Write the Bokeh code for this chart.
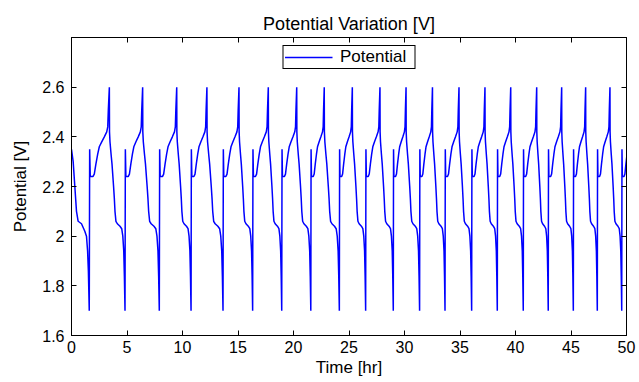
from bokeh.plotting import figure
from bokeh.models import (Range1d, LinearAxis, FixedTicker, CustomJSTickFormatter,
                          Legend, LegendItem)
from bokeh.embed import file_html
from bokeh.resources import INLINE

# ---- data ----
# times (hr) of the low spikes (1.7 V) that end each discharge
min_times = [1.60, 4.82, 7.91, 10.77, 13.65, 16.32, 18.94, 21.56, 24.13, 26.50,
             28.99, 31.36, 33.65, 36.05, 38.36, 40.70, 42.95, 45.21, 47.37, 49.57]
# times (hr) of the high spikes (2.6 V) that end each charge (last one lies past the axis end)
peak_times = [3.41, 6.41, 9.48, 12.20, 15.09, 17.73, 20.29, 22.77, 25.30, 27.79,
              30.14, 32.52, 34.91, 37.25, 39.57, 41.91, 44.16, 46.32, 48.51, 50.71]
# initial discharge, t = 0 .. first low spike
init_t = [0.00, 0.15, 0.30, 0.45, 0.60, 0.90, 1.20, 1.35, 1.45, 1.52, 1.60]
init_v = [2.35, 2.30, 2.20, 2.10, 2.06, 2.05, 2.02, 2.00, 1.94, 1.86, 1.70]
# charge shape (fraction of charge duration -> V)
charge_frac = [0.00, 0.02, 0.05, 0.18, 0.25, 0.33, 0.42, 0.50, 0.62, 0.75, 0.87, 0.92, 0.95, 1.00]
charge_v = [1.70, 2.35, 2.24, 2.24, 2.25, 2.29, 2.33, 2.36, 2.38, 2.40, 2.42, 2.44, 2.51, 2.60]
# discharge shape (fraction of discharge duration -> V)
dis_frac = [0.00, 0.01, 0.04, 0.11, 0.17, 0.27, 0.32, 0.36, 0.42, 0.51, 0.68, 0.79, 0.86, 0.92, 0.96, 1.00]
dis_v = [2.60, 2.42, 2.38, 2.33, 2.29, 2.20, 2.15, 2.10, 2.06, 2.05, 2.04, 2.03, 2.00, 1.94, 1.84, 1.70]

x_ticks = [0, 5, 10, 15, 20, 25, 30, 35, 40, 45, 50]
y_ticks = [1.6, 1.8, 2.0, 2.2, 2.4, 2.6]

# ---- assemble the series ----
t = list(init_t)
v = list(init_v)
for i, tm in enumerate(min_times):
    tp = peak_times[i]
    for f, val in zip(charge_frac[1:], charge_v[1:]):
        t.append(tm + f * (tp - tm))
        v.append(val)
    if i + 1 < len(min_times):
        tn = min_times[i + 1]
        for f, val in zip(dis_frac[1:], dis_v[1:]):
            t.append(tp + f * (tn - tp))
            v.append(val)

FONT = "Liberation Sans"

p = figure(width=639, height=382, output_backend="svg", toolbar_location=None,
           x_range=Range1d(0, 50), y_range=Range1d(1.6, 2.8),
           min_border_left=71, min_border_right=13, min_border_top=37, min_border_bottom=47,
           title="Potential Variation [V]")
p.title.align = "center"
p.title.text_font = FONT
p.title.text_font_size = "18px"
p.title.text_font_style = "normal"
p.title.text_color = "black"
p.title.standoff = 7

p.xgrid.visible = False
p.ygrid.visible = False
p.outline_line_color = "black"
p.outline_line_alpha = 1.0
p.background_fill_color = "white"
p.border_fill_color = "white"

fmt = CustomJSTickFormatter(code="return Number(tick.toFixed(1)).toString();")
blank_fmt = CustomJSTickFormatter(code="return '';")


def style(ax, ticks, labels=True):
    ax.ticker = FixedTicker(ticks=ticks)
    ax.major_tick_in = 5
    ax.major_tick_out = 0
    ax.minor_tick_line_color = None
    ax.axis_line_color = "black"
    ax.major_tick_line_color = "black"
    ax.major_label_text_font = FONT
    ax.major_label_text_color = "black"
    ax.axis_label_text_font = FONT
    ax.axis_label_text_font_style = "normal"
    ax.axis_label_text_color = "black"
    if labels:
        ax.formatter = fmt
        ax.major_label_text_font_size = "16px"
        ax.axis_label_text_font_size = "17px"
    else:
        ax.formatter = blank_fmt
        ax.major_label_text_font_size = "1px"
        ax.major_label_standoff = 0
        ax.axis_label_standoff = 0


style(p.xaxis[0], x_ticks)
p.xaxis[0].axis_label = "Time [hr]"
p.xaxis[0].major_label_standoff = 5
p.xaxis[0].axis_label_standoff = 2

style(p.yaxis[0], y_ticks)
p.yaxis[0].axis_label = "Potential [V]"
p.yaxis[0].major_label_standoff = 7
p.yaxis[0].axis_label_standoff = 9

top_ax = LinearAxis()
style(top_ax, x_ticks, labels=False)
p.add_layout(top_ax, "above")
right_ax = LinearAxis()
style(right_ax, y_ticks, labels=False)
p.add_layout(right_ax, "right")

r = p.line(t, v, line_color="#0000ff", line_width=1.5)

legend = Legend(items=[LegendItem(label="Potential", renderers=[r])],
                location="top_center", margin=8, padding=1, spacing=0,
                glyph_width=48, label_standoff=8, label_width=73,
                border_line_color="black", border_line_width=1, border_line_alpha=1.0,
                background_fill_color="white", background_fill_alpha=1.0,
                label_text_font=FONT, label_text_font_size="17px", label_text_color="black")
p.add_layout(legend)

open("out.html", "w").write(file_html(p, INLINE))
